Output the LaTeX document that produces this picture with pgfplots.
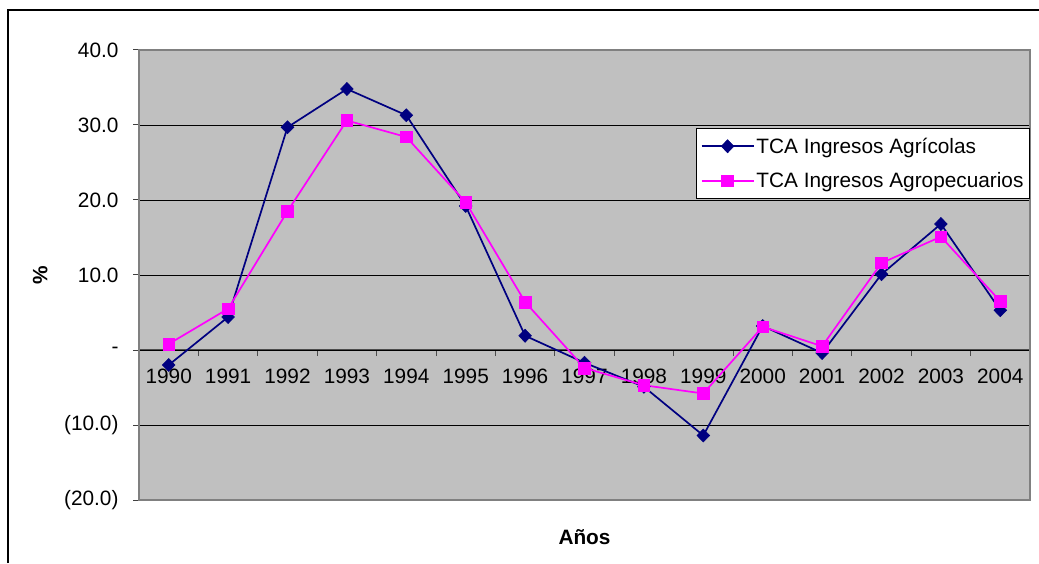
\documentclass[border=0pt]{standalone}
\usepackage{pgfplots}
\pgfplotsset{compat=1.18}
\usepackage{fontspec}
\setmainfont{Liberation Sans}
\definecolor{navy}{HTML}{000080}
\definecolor{mag}{HTML}{FF00FF}
\definecolor{plotgray}{HTML}{C0C0C0}
\definecolor{edge}{HTML}{808080}
\newcommand{\fs}{\fontsize{20.8}{24}\selectfont}
\begin{document}
\begin{tikzpicture}
\path[use as bounding box] (0,0) rectangle (1039pt,563pt);
\draw[line width=1.2pt] (8pt,0) -- (8pt,553pt) -- (1039pt,553pt);
% background axis with the x axis line at zero
\begin{axis}[at={(139pt,63pt)}, anchor=south west, scale only axis,
  width=891pt, height=450pt,
  xmin=-0.5, xmax=14.5, ymin=-20, ymax=40,
  axis background/.style={fill=plotgray},
  axis x line=middle, axis y line=none,
  x axis line style={-, line width=1.3pt, black!70},
  every inner x axis line/.append style={-},
  xtick={0,...,14},
  xticklabels={1990,1991,1992,1993,1994,1995,1996,1997,1998,1999,2000,2001,2002,2003,2004},
  major tick length=0pt,
  minor xtick={0.5,1.5,...,13.5},
  minor tick length=6pt, tick align=outside,
  minor tick style={black!70, line width=1pt},
  xticklabel style={font=\fs, yshift=-15pt},
]
\end{axis}
\begin{axis}[at={(139pt,63pt)}, anchor=south west, scale only axis,
  width=891pt, height=450pt,
  xmin=-0.5, xmax=14.5, ymin=-20, ymax=40,
  axis line style={edge, line width=1.3pt},
  xtick=\empty,
  ytick={-20,-10,...,40},
  yticklabels={(20.0),(10.0),-,10.0,20.0,30.0,40.0},
  ytick pos=left, tick align=outside, major tick length=6pt,
  tick style={black!75, line width=1pt},
  ymajorgrids, major grid style={black, line width=0.9pt},
  yticklabel style={font=\fs, xshift=-11pt},
  ylabel={\textbf{\%}}, xlabel={\textbf{Años}},
  every axis y label/.style={at={(axis description cs:-0.111,0.5)}, rotate=90, anchor=center, font=\fs},
  every axis x label/.style={at={(axis description cs:0.5,-0.082)}, anchor=center, font=\fs},
  legend style={at={(1,0.827)}, anchor=north east, draw=black, line width=1pt, fill=white,
    font=\fs, inner xsep=4pt, inner ysep=7.5pt, row sep=14pt,
    /tikz/every even column/.append style={column sep=3pt}},
  legend cell align=left,
  legend image code/.code={\draw[mark repeat=2,mark phase=2,#1] plot coordinates {(0pt,0pt) (26pt,0pt) (52pt,0pt)};},
]
\addplot[navy, line width=1.7pt, mark=diamond*, mark size=6.5pt, mark options={solid, line width=0.6pt, xscale=1.3}] coordinates {
 (0,-2.0) (1,4.4) (2,29.7) (3,34.8) (4,31.3) (5,19.2) (6,1.9) (7,-1.7)
 (8,-4.9) (9,-11.4) (10,3.2) (11,-0.4) (12,10.1) (13,16.8) (14,5.3)};
\addplot[mag, line width=1.7pt, mark=square*, mark size=5.8pt, mark options={solid, line width=0.6pt}] coordinates {
 (0,0.8) (1,5.5) (2,18.5) (3,30.6) (4,28.4) (5,19.7) (6,6.4) (7,-2.4)
 (8,-4.7) (9,-5.8) (10,3.1) (11,0.5) (12,11.6) (13,15.1) (14,6.5)};
\legend{TCA Ingresos Agrícolas, TCA Ingresos Agropecuarios}
\end{axis}
\end{tikzpicture}
\end{document}
